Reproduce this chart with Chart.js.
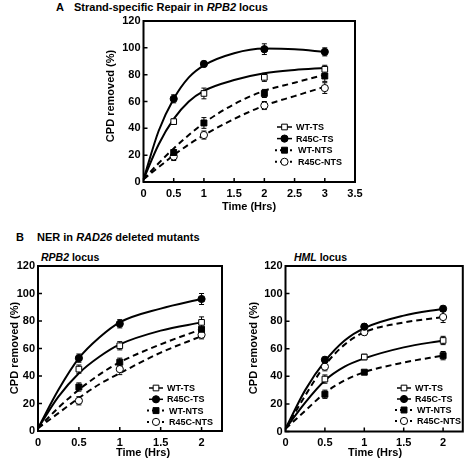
<!DOCTYPE html>
<html>
<head>
<meta charset="utf-8">
<script src="https://cdn.jsdelivr.net/npm/chart.js@4.4.1/dist/chart.umd.min.js"></script>
<style>
  body { margin: 0; width: 468px; height: 468px; background: #fff; position: relative; overflow: hidden;
         font-family: "Liberation Sans", Arial, sans-serif; font-weight: bold; color: #000; }
  canvas { position: absolute; left: 0; top: 0; }
  .t { position: absolute; font-size: 11px; line-height: 12px; white-space: nowrap; }
</style>
</head>
<body>
<div class="t" style="left:56px;top:1px">A</div>
<div class="t" style="left:74px;top:1px">Strand-specific Repair in <i>RPB2</i> locus</div>
<div class="t" style="left:16px;top:231px">B</div>
<div class="t" style="left:37px;top:231px">NER in <i>RAD26</i> deleted mutants</div>
<div class="t" style="left:41px;top:251px;font-size:10.5px"><i>RPB2</i> locus</div>
<div class="t" style="left:294px;top:251px;font-size:10.5px"><i>HML</i> locus</div>
<canvas id="chartA" width="468" height="468"></canvas>
<canvas id="chartB" width="468" height="468"></canvas>
<canvas id="chartC" width="468" height="468"></canvas>
<script>
// series names (legend order)
const seriesNames = ['WT-TS', 'R45C-TS', 'WT-NTS', 'R45C-NTS'];
const yTicks = [0, 20, 40, 60, 80, 100, 120];

// ---- panel A: RPB2 locus, strand-specific repair ----
const xTicksA = [0, 0.5, 1, 1.5, 2, 2.5, 3, 3.5];
const timeA = [0.5, 1, 2, 3];
const aWtTs = [45, 66, 78, 84];
const aWtTsErr = [2, 4, 3, 3];
const aR45cTs = [62, 88, 99, 97];
const aR45cTsErr = [3, 2, 4, 3];
const aWtNts = [22, 44, 66, 79];
const aWtNtsErr = [2, 4, 3, 4];
const aR45cNts = [19, 35, 57, 70];
const aR45cNtsErr = [3, 3, 3, 4];
// fitted curves
const fitTimeA = [0, 0.25, 0.5, 0.75, 1, 1.5, 2, 2.5, 3];
const aWtTsFit = [2, 28, 47, 60, 68, 76, 81, 83.5, 85];
const aR45cTsFit = [2, 38, 62, 78, 87, 96, 99.5, 99, 97];
const aWtNtsFit = [2, 14, 25, 35, 44, 58, 68, 74, 80];
const aR45cNtsFit = [2, 11, 20, 28, 35, 47, 57, 64, 71];

// ---- panel B: RPB2 locus in rad26 deleted ----
const xTicksB = [0, 0.5, 1, 1.5, 2];
const timeB = [0.5, 1, 2];
const bWtTs = [45, 62, 79];
const bWtTsErr = [3, 3, 4];
const bR45cTs = [53, 78, 96];
const bR45cTsErr = [3, 3, 4];
const bWtNts = [32, 50, 74];
const bWtNtsErr = [3, 3, 4];
const bR45cNts = [22, 45, 70];
const bR45cNtsErr = [3, 4, 3];
const fitTimeB = [0, 0.25, 0.5, 0.75, 1, 1.5, 2];
const bWtTsFit = [2, 25, 42, 54, 63, 73, 79];
const bR45cTsFit = [2, 30, 53, 68, 79, 89, 96];
const bWtNtsFit = [2, 17, 30, 41, 50, 63, 74];
const bR45cNtsFit = [2, 13, 24, 34, 42, 57, 69];

// ---- panel C: HML locus in rad26 deleted ----
const cWtTs = [38, 54, 66];
const cWtTsErr = [3, 2, 3];
const cR45cTs = [52, 76, 89];
const cR45cTsErr = [2, 2, 2];
const cWtNts = [27, 43, 55];
const cWtNtsErr = [3, 1, 3];
const cR45cNts = [47, 72, 83];
const cR45cNtsErr = [3, 2, 4];
const cWtTsFit = [2, 21, 37, 47, 53, 61, 66];
const cR45cTsFit = [2, 30, 51, 66, 75, 84, 89];
const cWtNtsFit = [2, 15, 28, 37, 43, 50, 55];
const cR45cNtsFit = [2, 26, 48, 63, 72, 79, 83];

const FONT = '"Liberation Sans", Arial, sans-serif';

// marker look per series
const markerStyle = [
  { pointStyle: 'rect', radius: 4, fill: '#fff' },
  { pointStyle: 'circle', radius: 3.6, fill: '#000' },
  { pointStyle: 'rect', radius: 4.2, fill: '#000' },
  { pointStyle: 'circle', radius: 3.6, fill: '#fff' }
];
const lineDash = [[], [], [6, 4], [6, 4]];

function pts(xs, ys) {
  return xs.map((x, i) => ({ x: x, y: ys[i] }));
}

const framePlugin = {
  id: 'frame',
  beforeDatasetsDraw(chart, args, opts) {
    // error bars, under the markers
    const ctx = chart.ctx, xs = chart.scales.x, ys = chart.scales.y;
    ctx.save();
    ctx.strokeStyle = '#000';
    ctx.lineWidth = 1;
    chart.data.datasets.forEach(ds => {
      if (!ds.errorBars) return;
      ds.data.forEach((p, i) => {
        const e = ds.errorBars[i];
        const px = xs.getPixelForValue(p.x);
        const y1 = ys.getPixelForValue(p.y + e), y2 = ys.getPixelForValue(p.y - e);
        ctx.beginPath();
        ctx.moveTo(px, y1); ctx.lineTo(px, y2);
        ctx.moveTo(px - 2.5, y1); ctx.lineTo(px + 2.5, y1);
        ctx.moveTo(px - 2.5, y2); ctx.lineTo(px + 2.5, y2);
        ctx.stroke();
      });
    });
    ctx.restore();
  },
  afterDraw(chart, args, opts) {
    const ctx = chart.ctx, a = chart.chartArea;
    const xs = chart.scales.x, ys = chart.scales.y;
    ctx.save();
    ctx.strokeStyle = '#000';
    ctx.lineWidth = 2;
    ctx.strokeRect(a.left, a.top, a.right - a.left, a.bottom - a.top);
    // inward ticks
    ctx.lineWidth = 1.5;
    ctx.beginPath();
    xs.ticks.forEach(t => {
      const px = xs.getPixelForValue(t.value);
      ctx.moveTo(px, a.bottom); ctx.lineTo(px, a.bottom - 4);
    });
    ys.ticks.forEach(t => {
      const py = ys.getPixelForValue(t.value);
      ctx.moveTo(a.left, py); ctx.lineTo(a.left + 4, py);
    });
    ctx.stroke();

    // axis titles
    ctx.fillStyle = '#000';
    ctx.font = 'bold 11px ' + FONT;
    ctx.textAlign = 'center';
    ctx.textBaseline = 'middle';
    ctx.fillText('Time (Hrs)', opts.xTitle[0], opts.xTitle[1]);
    ctx.save();
    ctx.translate(opts.yTitle[0], opts.yTitle[1]);
    ctx.rotate(-Math.PI / 2);
    ctx.fillText('CPD removed (%)', 0, 0);
    ctx.restore();

    // legend
    const lg = opts.legend;
    ctx.font = 'bold 9px ' + FONT;
    ctx.textAlign = 'left';
    seriesNames.forEach((name, i) => {
      const y = lg.y + i * lg.dy;
      const nts = i >= 2;
      ctx.lineWidth = nts ? 2 : 1.5;
      ctx.setLineDash(nts ? [2, 3] : []);
      ctx.beginPath();
      ctx.moveTo(lg.x - (nts ? 2 : 0), y);
      ctx.lineTo(lg.x + lg.w + (nts ? 3 : 0), y);
      ctx.stroke();
      ctx.setLineDash([]);
      const m = markerStyle[i];
      ctx.fillStyle = m.fill;
      ctx.lineWidth = 1;
      Chart.helpers.drawPoint(ctx, { pointStyle: m.pointStyle, radius: m.radius, borderWidth: 1 },
        lg.x + lg.w / 2, y);
      ctx.fillStyle = '#000';
      ctx.fillText(name, lg.x + lg.w + (nts ? 6 : 4), y + 0.5);
    });
    ctx.restore();
  }
};

function makePanel(id, box, xMax, xTicks, fitX, fits, markX, marks, errs, deco) {
  const datasets = [];
  marks.forEach((ys, i) => {
    const m = markerStyle[i];
    datasets.push({
      label: seriesNames[i],
      data: pts(markX, ys),
      errorBars: errs[i],
      showLine: false,
      pointStyle: m.pointStyle,
      pointRadius: m.radius,
      pointBackgroundColor: m.fill,
      pointBorderColor: '#000',
      pointBorderWidth: 1,
      order: 0
    });
  });
  fits.forEach((ys, i) => {
    datasets.push({
      label: seriesNames[i] + ' fit',
      data: pts(fitX, ys),
      showLine: true,
      borderColor: '#000',
      borderWidth: 2,
      borderDash: lineDash[i],
      pointRadius: 0,
      cubicInterpolationMode: 'monotone',
      order: 1
    });
  });
  const tickFont = { family: FONT, size: 11, weight: 'bold' };
  return new Chart(document.getElementById(id), {
    type: 'scatter',
    data: { datasets: datasets },
    options: {
      responsive: false,
      animation: false,
      devicePixelRatio: 1,
      layout: { padding: { left: 0, top: box.top, right: 468 - box.right, bottom: 0 } },
      scales: {
        x: {
          type: 'linear', min: 0, max: xMax,
          afterFit: s => { s.height = 468 - box.bottom; },
          afterBuildTicks: s => { s.ticks = xTicks.map(v => ({ value: v })); },
          grid: { display: false, drawTicks: false },
          border: { display: false },
          ticks: { color: '#000', font: tickFont, padding: 5, maxRotation: 0, autoSkip: false,
                   callback: v => String(v) }
        },
        y: {
          type: 'linear', min: 0, max: 120,
          afterFit: s => { s.width = box.left; },
          afterBuildTicks: s => { s.ticks = yTicks.map(v => ({ value: v })); },
          grid: { display: false, drawTicks: false },
          border: { display: false },
          ticks: { color: '#000', font: tickFont, padding: 3, autoSkip: false,
                   callback: v => String(v) }
        }
      },
      plugins: {
        legend: { display: false },
        tooltip: { enabled: false },
        frame: deco
      }
    },
    plugins: [framePlugin]
  });
}

makePanel('chartA', { left: 143.5, top: 21, right: 355, bottom: 182 }, 3.5, xTicksA,
  fitTimeA, [aWtTsFit, aR45cTsFit, aWtNtsFit, aR45cNtsFit],
  timeA, [aWtTs, aR45cTs, aWtNts, aR45cNts],
  [aWtTsErr, aR45cTsErr, aWtNtsErr, aR45cNtsErr],
  { xTitle: [249, 207], yTitle: [111, 96], legend: { x: 277, y: 127, dy: 11.6, w: 15 } });

makePanel('chartB', { left: 38, top: 266, right: 222, bottom: 431 }, 2.25, xTicksB,
  fitTimeB, [bWtTsFit, bR45cTsFit, bWtNtsFit, bR45cNtsFit],
  timeB, [bWtTs, bR45cTs, bWtNts, bR45cNts],
  [bWtTsErr, bR45cTsErr, bWtNtsErr, bR45cNtsErr],
  { xTitle: [143, 453], yTitle: [15, 348], legend: { x: 149, y: 388, dy: 11.3, w: 14 } });

makePanel('chartC', { left: 285.5, top: 266, right: 466, bottom: 431.5 }, 2.25, xTicksB,
  fitTimeB, [cWtTsFit, cR45cTsFit, cWtNtsFit, cR45cNtsFit],
  timeB, [cWtTs, cR45cTs, cWtNts, cR45cNts],
  [cWtTsErr, cR45cTsErr, cWtNtsErr, cR45cNtsErr],
  { xTitle: [375, 453], yTitle: [254, 348], legend: { x: 397, y: 388, dy: 11, w: 14 } });
</script>
</body>
</html>
